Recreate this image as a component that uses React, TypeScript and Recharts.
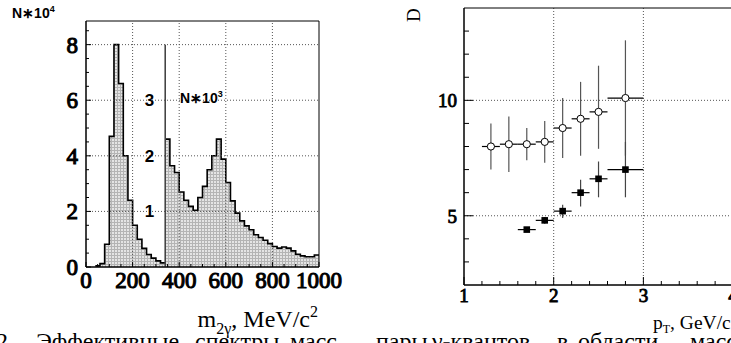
import React from "react";
import {
  ComposedChart,
  Area,
  Scatter,
  ErrorBar,
  XAxis,
  YAxis,
  CartesianGrid,
  ReferenceLine,
  ReferenceDot,
  ReferenceArea,
} from "recharts";

// left panel: two-photon mass spectrum, 20 MeV bins
const lowEdges = [40, 60, 80, 100, 120, 140, 160, 180, 200, 220, 240, 260, 280, 300, 320];
const lowCounts = [0.04, 0.12, 0.82, 4.7, 8.0, 6.6, 4.0, 2.4, 1.5, 1.0, 0.67, 0.45, 0.32, 0.22, 0.15]; // N*10^4
const highEdges = [
  340, 360, 380, 400, 420, 440, 460, 480, 500, 520, 540, 560, 580, 600, 620, 640, 660,
  680, 700, 720, 740, 760, 780, 800, 820, 840, 860, 880, 900, 920, 940, 960, 980,
];
const highCounts = [
  2.3, 1.82, 1.7, 1.35, 1.2, 1.09, 1.02, 1.25, 1.45, 1.75, 2.0, 2.3, 1.94, 1.52, 1.19, 0.97, 0.83,
  0.74, 0.67, 0.58, 0.53, 0.48, 0.42, 0.37, 0.34, 0.36, 0.34, 0.29, 0.23, 0.2, 0.185, 0.185, 0.215,
]; // N*10^3
const massEnd = 1000;
const massTicks = [0, 50, 100, 150, 200, 250, 300, 350, 400, 450, 500, 550, 600, 650, 700, 750, 800, 850, 900, 950, 1000];
const massLabels = [0, 200, 400, 600, 800, 1000];
const massGrid = [200, 400, 600, 800];
const countTicks = [0, 0.5, 1, 1.5, 2, 2.5, 3, 3.5, 4, 4.5, 5, 5.5, 6, 6.5, 7, 7.5, 8, 8.5];
const countLabels = [0, 2, 4, 6, 8];
const countGrid = [2, 4, 6, 8];
const insetLabels = [1, 2, 3];

// right panel: D vs pT
const openPt = [1.3, 1.5, 1.7, 1.9, 2.1, 2.3, 2.5, 2.8];
const openD = [8.0, 8.1, 8.1, 8.2, 8.8, 9.2, 9.5, 10.1];
const openErrLow = [1.0, 1.2, 0.7, 0.9, 1.3, 1.6, 1.6, 2.5];
const openErrHigh = [1.0, 1.2, 0.7, 0.9, 1.3, 1.6, 2.0, 2.5];
const openPtErr = [0.1, 0.1, 0.1, 0.1, 0.1, 0.1, 0.1, 0.2];
const fullPt = [1.7, 1.9, 2.1, 2.3, 2.5, 2.8];
const fullD = [4.4, 4.8, 5.2, 6.0, 6.6, 7.0];
const fullErrLow = [0.1, 0.15, 0.3, 0.6, 0.8, 1.2];
const fullErrHigh = [0.1, 0.15, 0.28, 0.56, 0.75, 1.2];
const fullPtErr = [0.1, 0.1, 0.1, 0.1, 0.1, 0.2];
const ptTicks = [1, 1.2, 1.4, 1.6, 1.8, 2, 2.2, 2.4, 2.6, 2.8, 3, 3.2, 3.4, 3.6, 3.8, 4, 4.2];
const ptLabels = [1, 2, 3, 4];
const dTicks = [3, 4, 5, 6, 7, 8, 9, 10, 11, 12, 13];
const dLabels = [5, 10];

const captionWords = ["2.", "Эффективные", "спектры", "масс", "пары", "γ-квантов", "в", "области", "масс"];
const captionX = [-4, 36, 195, 290, 376, 432, 557, 578, 690];

const serif = "Liberation Serif";
const sans = "Liberation Sans";

const histRows = [
  ...lowEdges.map((m, i) => ({ m, lo: lowCounts[i] })),
  { m: highEdges[0], lo: lowCounts[lowCounts.length - 1], hi: highCounts[0] },
  ...highEdges.slice(1).map((m, i) => ({ m, hi: highCounts[i + 1] })),
  { m: massEnd, hi: highCounts[highCounts.length - 1] },
];

const openRows = openPt.map((pt, i) => ({
  pt,
  d: openD[i],
  ex: openPtErr[i],
  ey: [openErrLow[i], openErrHigh[i]],
}));
const fullRows = fullPt.map((pt, i) => ({
  pt,
  d: fullD[i],
  ex: fullPtErr[i],
  ey: [fullErrLow[i], fullErrHigh[i]],
}));

// heavy Times-like digits: regular serif face thickened with a stroke
const tickFont = (size: number) => ({
  fontFamily: serif,
  fontWeight: 400,
  fontSize: size,
  stroke: "#000",
  strokeWidth: size / 22,
});

const leftTick =
  (majors: number[], long: number, short: number, fontSize: number, gap: number, dy: number) =>
  (p: any) => {
    const v = p.payload.value;
    const major = majors.includes(v);
    return (
      <g>
        <line x1={p.x} x2={p.x + (major ? long : short)} y1={p.y} y2={p.y} stroke="#000" />
        {major && (
          <text x={p.x - gap} y={p.y + dy} textAnchor="end" style={tickFont(fontSize)} fill="#000">
            {v}
          </text>
        )}
      </g>
    );
  };

const bottomTick =
  (majors: number[], long: number, short: number, fontSize: number, dy: number) =>
  (p: any) => {
    const v = p.payload.value;
    const major = majors.includes(v);
    return (
      <g>
        <line x1={p.x} x2={p.x} y1={p.y} y2={p.y - (major ? long : short)} stroke="#000" />
        {major && (
          <text x={p.x} y={p.y + dy} textAnchor="middle" style={tickFont(fontSize)} fill="#000">
            {v}
          </text>
        )}
      </g>
    );
  };

const openCircle = (p: any) => (
  <circle cx={p.cx} cy={p.cy} r={3.6} fill="#fff" stroke="#000" strokeWidth={1} />
);
const fullSquare = (p: any) => <rect x={p.cx - 3.3} y={p.cy - 3.3} width={6.6} height={6.6} fill="#000" />;

const gridLine = { stroke: "#555", strokeDasharray: "1 2", strokeWidth: 1 };

const MassChart = () => (
  <ComposedChart width={360} height={343} data={histRows} margin={{ top: 21, right: 41, bottom: 0, left: 0 }}>
    <defs>
      <pattern id="hatch" width="3" height="3" patternUnits="userSpaceOnUse">
        <rect width="3" height="3" fill="#e4e4e4" />
        <rect width="3" height="1" fill="#b4b4b4" />
        <rect width="1" height="3" fill="#b4b4b4" />
      </pattern>
    </defs>
    <XAxis
      dataKey="m"
      type="number"
      domain={[0, massEnd]}
      ticks={massTicks}
      interval={0}
      height={76}
      tickSize={0}
      tickMargin={0}
      tickLine={false}
      axisLine={{ stroke: "#000" }}
      tick={bottomTick(massLabels, 5, 3, 23, 21)}
      label={() => (
        <text x={318} y={327} textAnchor="end" style={{ fontFamily: serif, fontSize: 24 }} fill="#000">
          m
          <tspan dy={7} style={{ fontSize: 16 }}>2γ</tspan>
          <tspan dy={-7}>, MeV/c</tspan>
          <tspan dy={-10} style={{ fontSize: 16 }}>2</tspan>
        </text>
      )}
    />
    <YAxis
      type="number"
      domain={[0, 8.85]}
      ticks={countTicks}
      interval={0}
      width={86}
      tickSize={0}
      tickMargin={0}
      tickLine={false}
      axisLine={{ stroke: "#000" }}
      tick={leftTick(countLabels, 5, 3, 23, 8, 8)}
      label={() => (
        <text x={12} y={18} style={{ fontFamily: sans, fontWeight: 700, fontSize: 14 }} fill="#000">
          N∗10
          <tspan dy={-6} style={{ fontSize: 9 }}>4</tspan>
        </text>
      )}
    />
    <YAxis yAxisId="r" type="number" domain={[0, 4.425]} hide />
    <Area
      type="stepAfter"
      dataKey="lo"
      stroke="#000"
      strokeWidth={1.6}
      fill="url(#hatch)"
      fillOpacity={1}
      dot={false}
      activeDot={false}
      isAnimationActive={false}
    />
    <Area
      yAxisId="r"
      type="stepAfter"
      dataKey="hi"
      stroke="#000"
      strokeWidth={1.6}
      fill="url(#hatch)"
      fillOpacity={1}
      dot={false}
      activeDot={false}
      isAnimationActive={false}
    />
    {/* dotted grid drawn over the histogram, as in the original */}
    {massGrid.map((m) => (
      <ReferenceLine key={`gx${m}`} x={m} {...gridLine} />
    ))}
    {countGrid.map((c) => (
      <ReferenceLine key={`gy${c}`} y={c} {...gridLine} />
    ))}
    <ReferenceLine
      yAxisId="r"
      segment={[
        { x: highEdges[0], y: 0 },
        { x: highEdges[0], y: 4 },
      ]}
      stroke="#444"
      strokeWidth={1.6}
    />
    {insetLabels.map((v) => (
      <ReferenceDot
        key={v}
        yAxisId="r"
        x={highEdges[0]}
        y={v}
        r={1}
        fill="none"
        stroke="none"
        label={{ value: String(v), position: "left", offset: 10, style: { fontFamily: sans, fontWeight: 700, fontSize: 17 }, fill: "#000" }}
      />
    ))}
    <ReferenceDot
      yAxisId="r"
      x={highEdges[0]}
      y={3}
      r={1}
      fill="none"
      stroke="none"
      label={() => (
        <text x={180} y={103} style={{ fontFamily: sans, fontWeight: 700, fontSize: 14 }} fill="#000">
          N∗10
          <tspan dy={-6} style={{ fontSize: 9 }}>3</tspan>
        </text>
      )}
    />
    <ReferenceArea x1={0} x2={massEnd} y1={0} y2={8.85} fill="none" stroke="#000" strokeWidth={1} />
  </ComposedChart>
);

const RatioChart = () => (
  <ComposedChart width={391} height={343} margin={{ top: 8, right: 0, bottom: 0, left: 0 }}>
    <CartesianGrid horizontalValues={[5, 10]} verticalValues={[2, 3, 4]} {...gridLine} />
    <XAxis
      dataKey="pt"
      type="number"
      domain={[1, 4.2]}
      ticks={ptTicks}
      interval={0}
      height={58}
      tickSize={0}
      tickMargin={0}
      tickLine={false}
      axisLine={{ stroke: "#000" }}
      tick={bottomTick(ptLabels, 8, 4, 19, 17)}
      label={() => (
        <text x={293} y={329} style={{ fontFamily: serif, fontSize: 19.5 }} fill="#000">
          p
          <tspan dy={4} style={{ fontSize: 12 }}>T</tspan>
          <tspan dy={-4}>, GeV/c</tspan>
        </text>
      )}
    />
    <YAxis
      dataKey="d"
      type="number"
      domain={[2, 14]}
      ticks={dTicks}
      interval={0}
      width={104}
      tickSize={0}
      tickMargin={0}
      tickLine={false}
      axisLine={{ stroke: "#000" }}
      tick={leftTick(dLabels, 9, 5, 19, 7, 7)}
      label={() => (
        <text
          x={53}
          y={15}
          transform="rotate(-90 53 15)"
          textAnchor="middle"
          dominantBaseline="central"
          style={{ fontFamily: serif, fontSize: 19 }}
          fill="#000"
        >
          D
        </text>
      )}
    />
    <Scatter data={openRows} shape={openCircle} isAnimationActive={false}>
      <ErrorBar dataKey="ey" direction="y" width={0} stroke="#555" strokeWidth={1.2} />
      <ErrorBar dataKey="ex" direction="x" width={0} stroke="#000" strokeWidth={1.2} />
    </Scatter>
    <Scatter data={fullRows} shape={fullSquare} isAnimationActive={false}>
      <ErrorBar dataKey="ey" direction="y" width={0} stroke="#444" strokeWidth={1.2} />
      <ErrorBar dataKey="ex" direction="x" width={0} stroke="#000" strokeWidth={1.2} />
    </Scatter>
    <ReferenceArea x1={1} x2={4.2} y1={2} y2={14} fill="none" stroke="#000" strokeWidth={1} />
  </ComposedChart>
);

export default function App() {
  return (
    <div
      style={{
        position: "fixed",
        left: 0,
        top: 0,
        width: 731,
        height: 343,
        overflow: "hidden",
        background: "#fff",
      }}
    >
      <div style={{ position: "absolute", left: 0, top: 0 }}>
        <MassChart />
      </div>
      <div style={{ position: "absolute", left: 360, top: 0 }}>
        <RatioChart />
      </div>
      <svg width={731} height={343} style={{ position: "absolute", left: 0, top: 0, pointerEvents: "none" }}>
        <text y={349} style={{ fontFamily: serif, fontSize: 24 }} fill="#000">
          {captionWords.map((w, i) => (
            <tspan key={i} x={captionX[i]}>
              {w}
            </tspan>
          ))}
        </text>
      </svg>
    </div>
  );
}
